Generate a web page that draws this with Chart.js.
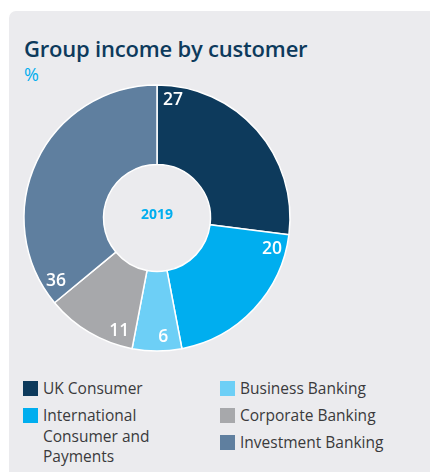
<!DOCTYPE html>
<html>
<head>
<meta charset="utf-8">
<script src="https://cdn.jsdelivr.net/npm/chart.js@4/dist/chart.umd.min.js"></script>
<style>
  html, body { margin: 0; padding: 0; background: #fff; }
  body { width: 430px; height: 472px; overflow: hidden; position: relative; font-family: "Open Sans", "Noto Sans", sans-serif; }
  .panel { position: absolute; left: 9px; top: 11px; width: 440px; height: 480px; background: #ebebee; border-radius: 7px; }
  .title { position: absolute; left: 24px; top: 33px; font-size: 22px; font-weight: 600; color: #0d3a5c; letter-spacing: -0.2px; }
  .unit { position: absolute; left: 24px; top: 62px; font-size: 18px; color: #00aeef; }
  .chartBox { position: absolute; left: 17px; top: 78px; width: 280px; height: 280px; }
  .legend { position: absolute; left: 23px; top: 378px; width: 400px; }
  .legend .item { position: absolute; display: flex; font-size: 15.5px; line-height: 20.5px; color: #3a3a3c; }
  .legend .box { width: 15px; height: 15px; margin-right: 5px; margin-top: 3px; flex: none; }
</style>
</head>
<body>
<div class="panel"></div>
<div class="title">Group income by customer</div>
<div class="unit">%</div>
<div class="chartBox"><canvas id="chart"></canvas></div>
<div class="legend" id="legend"></div>
<script>
const customers = ["UK Consumer", "International Consumer and Payments", "Business Banking", "Corporate Banking", "Investment Banking"];
const legendLines = [["UK Consumer"], ["International", "Consumer and", "Payments"], ["Business Banking"], ["Corporate Banking"], ["Investment Banking"]];
const income2019 = [27, 20, 6, 11, 36];
const sliceColors = ["#0d3a5c", "#00aeef", "#6dcff6", "#a7a8ab", "#5f7f9f"];
const centerLabel = "2019";

// value labels sit near the leading edge of each slice, close to the rim
const sliceLabels = {
  id: "sliceLabels",
  afterDatasetsDraw(chart) {
    const ctx = chart.ctx;
    const meta = chart.getDatasetMeta(0);
    ctx.save();
    ctx.fillStyle = "#ffffff";
    ctx.font = "600 17.5px 'Open Sans', 'Noto Sans', sans-serif";
    ctx.textAlign = "center";
    ctx.textBaseline = "middle";
    meta.data.forEach((arc, i) => {
      const a = arc.startAngle + 0.135;
      const r = arc.outerRadius - 14;
      ctx.fillText(String(income2019[i]), arc.x + Math.cos(a) * r, arc.y + Math.sin(a) * r);
    });
    // year in the hole
    const c = meta.data[0];
    ctx.fillStyle = "#00aeef";
    ctx.font = "700 14px 'Open Sans', 'Noto Sans', sans-serif";
    ctx.fillText(centerLabel, c.x, c.y - 3);
    ctx.restore();
  }
};

new Chart(document.getElementById("chart"), {
  type: "doughnut",
  data: {
    labels: customers,
    datasets: [{
      data: income2019,
      backgroundColor: sliceColors,
      borderColor: "#ffffff",
      borderWidth: 1.5
    }]
  },
  options: {
    responsive: true,
    maintainAspectRatio: false,
    animation: false,
    radius: 133,
    cutout: 56,
    layout: { padding: 0 },
    plugins: {
      legend: { display: false },
      tooltip: { enabled: false }
    }
  },
  plugins: [sliceLabels]
});

// two column legend, left column holds the first two entries
const legend = document.getElementById("legend");
const spots = [[0, 0], [0, 27], [197, 0], [197, 27], [197, 54]];
customers.forEach((name, i) => {
  const item = document.createElement("div");
  item.className = "item";
  item.style.left = spots[i][0] + "px";
  item.style.top = spots[i][1] + "px";
  const box = document.createElement("div");
  box.className = "box";
  box.style.background = sliceColors[i];
  const text = document.createElement("div");
  text.innerHTML = legendLines[i].join("<br>");
  item.appendChild(box);
  item.appendChild(text);
  legend.appendChild(item);
});
</script>
</body>
</html>
